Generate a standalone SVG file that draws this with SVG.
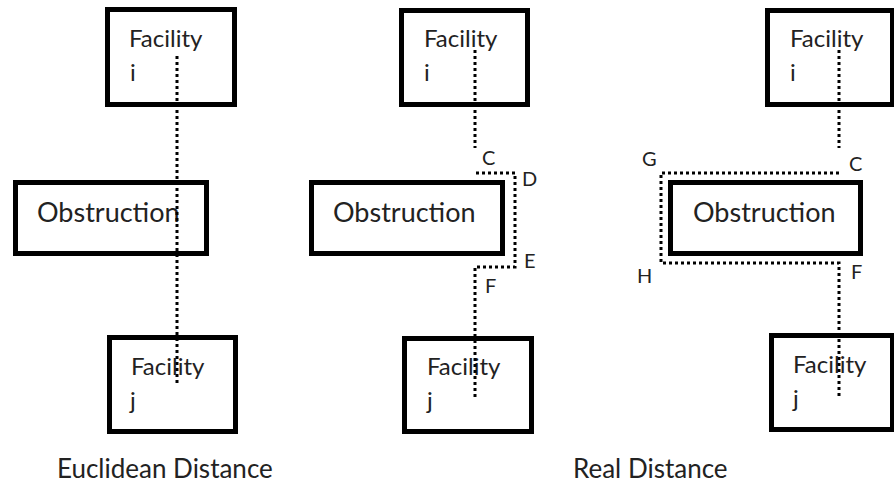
<svg xmlns="http://www.w3.org/2000/svg" width="894" height="485" viewBox="0 0 894 485">
<style>
.box{fill:#fff;stroke:#000;stroke-width:5}
.t{font-family:Lato,"Liberation Sans",sans-serif;fill:#222}
.fac{font-size:24px}
.obs{font-size:27px}
.cap{font-size:26px}
.pt{font-size:20px}
.dot{fill:none;stroke:#000;stroke-width:3;stroke-dasharray:3 3}
</style>
<rect width="894" height="485" fill="#fff"/>
<g id="euclid-fac-i"><rect class="box" x="107.5" y="9.5" width="127" height="95"/><text class="t fac" x="129" y="47">Facility</text><text class="t fac" x="130" y="81">i</text></g>
<g id="euclid-obs"><rect class="box" x="15.5" y="182.5" width="191" height="71"/><text class="t obs" x="37" y="222">Obstruction</text></g>
<g id="euclid-fac-j"><rect class="box" x="109.5" y="337.5" width="126" height="94"/><text class="t fac" x="131" y="375">Facility</text><text class="t fac" x="130" y="409">j</text></g>
<g id="real1-fac-i"><rect class="box" x="401.5" y="10.5" width="126" height="94"/><text class="t fac" x="424" y="47">Facility</text><text class="t fac" x="424" y="81">i</text></g>
<g id="real1-obs"><rect class="box" x="311.5" y="182.5" width="191" height="71"/><text class="t obs" x="333" y="222">Obstruction</text></g>
<g id="real1-fac-j"><rect class="box" x="404.5" y="338.5" width="127" height="93"/><text class="t fac" x="427" y="375">Facility</text><text class="t fac" x="427" y="409">j</text></g>
<g id="real2-fac-i"><rect class="box" x="767.5" y="10.5" width="125" height="94"/><text class="t fac" x="790" y="47">Facility</text><text class="t fac" x="790" y="81">i</text></g>
<g id="real2-obs"><rect class="box" x="670.5" y="182.5" width="190" height="71"/><text class="t obs" x="693" y="222">Obstruction</text></g>
<g id="real2-fac-j"><rect class="box" x="771.5" y="335.5" width="121" height="94"/><text class="t fac" x="793" y="373">Facility</text><text class="t fac" x="793" y="407">j</text></g>
<g id="connectors">
<path class="dot" d="M177 56V386"/>
<path class="dot" d="M475 50V148"/>
<path class="dot" d="M476 173H515V267H475V398"/>
<path class="dot" d="M839 50V148"/>
<path class="dot" d="M839 173H661V263H839V396"/>
</g>
<g id="labels">
<text class="t pt" x="482" y="165">C</text>
<text class="t pt" x="522" y="186">D</text>
<text class="t pt" x="524" y="268">E</text>
<text class="t pt" x="485" y="293">F</text>
<text class="t pt" x="642" y="166">G</text>
<text class="t pt" x="849" y="171">C</text>
<text class="t pt" x="637" y="283">H</text>
<text class="t pt" x="851" y="279">F</text>
<text class="t cap" x="57" y="478">Euclidean Distance</text>
<text class="t cap" x="573" y="478">Real Distance</text>
</g>
</svg>
